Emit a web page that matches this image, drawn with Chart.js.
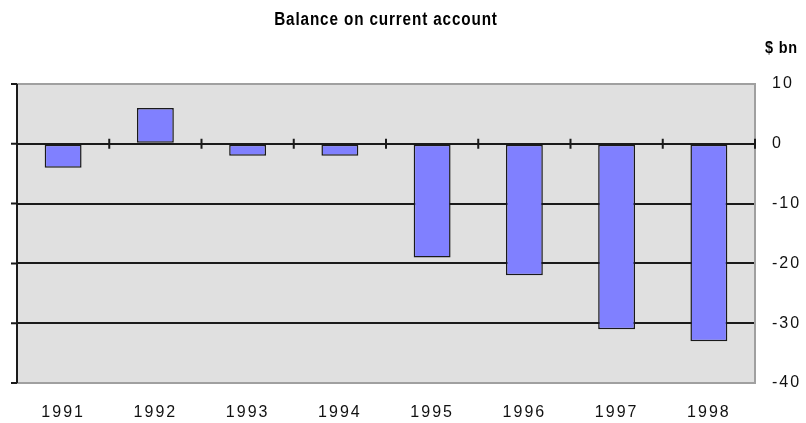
<!DOCTYPE html>
<html>
<head>
<meta charset="utf-8">
<script src="https://cdn.jsdelivr.net/npm/chart.js@4/dist/chart.umd.min.js"></script>
<style>
  body { margin: 0; background: #fff; }
  #wrap { width: 806px; height: 423px; }
</style>
</head>
<body>
<div id="wrap"><canvas id="balanceChart"></canvas></div>
<script>
// datos
var years = ['1991', '1992', '1993', '1994', '1995', '1996', '1997', '1998'];
var balance = [-4, 6, -2, -2, -19, -22, -31, -33];
var yTicks = [10, 0, -10, -20, -30, -40];

var chartTitle = 'Balance on current account';
var unitLabel = '$ bn';

// fondo gris, bordes, eje izquierdo y marcas sobre la línea de cero
var plotDecor = {
    id: 'plotDecor',
    beforeDraw: function(chart) {
        var ctx = chart.ctx;
        var a = chart.chartArea;
        ctx.letterSpacing = '2px';
        ctx.save();
        ctx.fillStyle = '#e0e0e0';
        ctx.fillRect(a.left, a.top, a.right - a.left, a.bottom - a.top);
        ctx.restore();
    },
    afterDraw: function(chart) {
        var ctx = chart.ctx;
        var a = chart.chartArea;
        var x = chart.scales.x;
        var y = chart.scales.y;
        var step = x.getPixelForValue(1) - x.getPixelForValue(0);
        ctx.save();
        // borde gris arriba y abajo
        ctx.strokeStyle = '#a0a0a0';
        ctx.lineWidth = 2;
        ctx.beginPath();
        ctx.moveTo(a.left, a.top);
        ctx.lineTo(a.right, a.top);
        ctx.moveTo(a.left, a.bottom);
        ctx.lineTo(a.right, a.bottom);
        ctx.stroke();
        // eje de valores a la izquierda
        ctx.strokeStyle = '#1a1a1a';
        ctx.lineWidth = 2;
        ctx.beginPath();
        ctx.moveTo(a.left, a.top);
        ctx.lineTo(a.left, a.bottom);
        yTicks.forEach(function(v) {
            var py = y.getPixelForValue(v);
            ctx.moveTo(a.left - 6, py);
            ctx.lineTo(a.left, py);
        });
        // marcas de categoría en la línea de cero
        var zero = y.getPixelForValue(0);
        for (var i = 0; i < years.length; i++) {
            var px = x.getPixelForValue(i) + step / 2;
            ctx.moveTo(px, zero - 5);
            ctx.lineTo(px, zero + 5);
        }
        ctx.stroke();
        // títulos
        ctx.fillStyle = '#000';
        ctx.textBaseline = 'middle';
        ctx.textAlign = 'center';
        ctx.font = 'bold 18px "Liberation Sans", Arial, sans-serif';
        ctx.letterSpacing = '1px';
        ctx.save();
        ctx.translate((a.left + a.right) / 2, 20);
        ctx.scale(0.85, 1);
        ctx.fillText(chartTitle, 0, 0);
        ctx.restore();
        ctx.font = 'bold 17px "Liberation Sans", Arial, sans-serif';
        ctx.textAlign = 'right';
        ctx.save();
        ctx.translate(798, 48);
        ctx.scale(0.85, 1);
        ctx.fillText(unitLabel, 0, 0);
        ctx.restore();
        ctx.restore();
    }
};

var ctx = document.getElementById('balanceChart').getContext('2d');
var balanceChart = new Chart(ctx, {
    type: 'bar',
    data: {
        labels: years,
        datasets: [{
            label: 'Balance',
            data: balance,
            backgroundColor: '#8080ff',
            borderColor: '#1a1a1a',
            borderWidth: 1.5,
            borderSkipped: false,
            barPercentage: 0.4,
            categoryPercentage: 1
        }]
    },
    options: {
        responsive: true,
        maintainAspectRatio: false,
        animation: false,
        layout: { padding: { left: 17, top: 84, right: 0, bottom: 0 } },
        plugins: {
            legend: { display: false },
            tooltip: { enabled: false },
            title: { display: false }
        },
        scales: {
            x: {
                grid: { display: false },
                border: { display: false },
                ticks: {
                    color: '#111',
                    font: { family: '"Liberation Sans", Arial, sans-serif', size: 16 },
                    padding: 12,
                    maxRotation: 0
                },
                afterFit: function(scale) { scale.height = 40; }
            },
            y: {
                position: 'right',
                min: -40,
                max: 10,
                grid: {
                    drawTicks: false,
                    lineWidth: 2,
                    color: function(c) {
                        var v = c.tick && c.tick.value;
                        return (v === 10 || v === -40) ? 'rgba(0,0,0,0)' : '#1a1a1a';
                    }
                },
                border: { display: true, color: '#a0a0a0', width: 2 },
                afterBuildTicks: function(scale) {
                    scale.ticks = yTicks.map(function(v) { return { value: v }; });
                },
                ticks: {
                    color: '#111',
                    font: { family: '"Liberation Sans", Arial, sans-serif', size: 16 },
                    padding: 17
                },
                afterFit: function(scale) { scale.width = 51; }
            }
        }
    },
    plugins: [plotDecor]
});
</script>
</body>
</html>
